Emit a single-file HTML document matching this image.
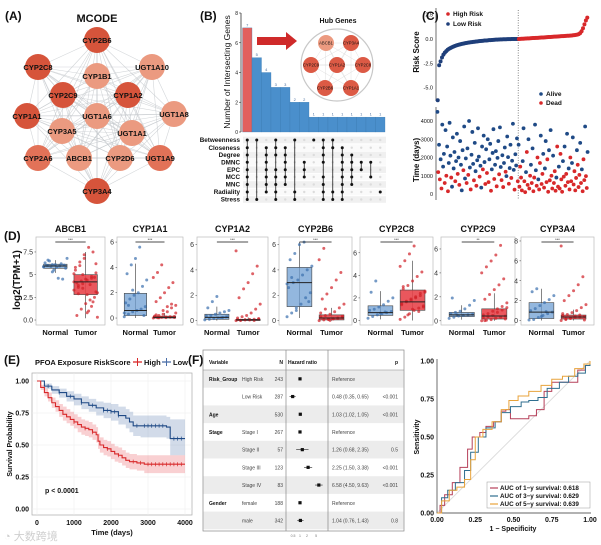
<!DOCTYPE html>
<html><head><meta charset="utf-8"><style>
html,body{margin:0;padding:0;background:#fff;}
svg{display:block;font-family:"Liberation Sans","Noto Sans CJK SC",sans-serif;}
</style></head><body>
<svg id="fig" width="601" height="545" viewBox="0 0 601 545"></svg>
<script>
// ---------- DATA ----------
const netNodes=[["CYP2B6",97,40,0],["CYP2C8",38,67,0],["UGT1A10",152,67,2],["CYP1B1",97,76,2],["CYP2C9",63,95,0],["CYP1A2",128,95,0],["CYP1A1",27,116,0],["UGT1A6",97,116,2],["UGT1A8",174,114,2],["CYP3A5",62,131,2],["UGT1A1",132,133,2],["CYP2A6",38,158,1],["ABCB1",79,158,2],["CYP2D6",120,158,2],["UGT1A9",160,158,1],["CYP3A4",97,191,0]];
const upsetValues=[7,5,4,3,3,2,2,1,1,1,1,1,1,1,1];
const upsetRows=["Betweenness","Closeness","Degree","DMNC","EPC","MCC","MNC","Radiality","Stress"];
const upsetSets=[[0,1,2,3,4,5,6,7,8],[0,8],[1,2,3,4,5,6,7],[0,1,2,4,5,6,7,8],[1,2,3,4,5,6],[0,7,8],[3,4,5],[0],[0,1,2,3,5,6,7,8],[0,1,7,8],[1,2,3,4,5,6,7,8],[2,3,4,5,6],[3,4],[3,5],[7]];
const hubNodes=[["ABCB1",326,43,1],["CYP3A4",351,43,0],["CYP2C9",311,65,0],["CYP1A2",337,65,0],["CYP2C8",363,65,0],["CYP2B6",325,88,0],["CYP1A1",351,88,0]];
const riskLow=[-6.3,-2.7,-2.3,-1.9,-1.6,-1.4,-1.25,-1.1,-1.0,-0.92,-0.85,-0.78,-0.72,-0.67,-0.62,-0.58,-0.54,-0.5,-0.47,-0.44,-0.41,-0.38,-0.36,-0.34,-0.32,-0.3,-0.28,-0.26,-0.24,-0.22,-0.21,-0.19,-0.18,-0.16,-0.15,-0.14,-0.12,-0.11,-0.1,-0.09,-0.08,-0.07,-0.06,-0.05,-0.04,-0.035,-0.03,-0.025,-0.02,-0.015,-0.01,-0.008,-0.006,-0.004,-0.003,-0.002,-0.001];
const riskHigh=[0.0,0.01,0.02,0.03,0.04,0.05,0.06,0.07,0.08,0.09,0.1,0.1,0.11,0.12,0.13,0.14,0.15,0.16,0.17,0.18,0.19,0.2,0.21,0.22,0.23,0.24,0.25,0.26,0.27,0.28,0.29,0.3,0.31,0.32,0.33,0.34,0.35,0.36,0.38,0.4,0.42,0.45,0.5,0.6,0.8,1.1,1.5,1.9,2.2];
const lowTime=[4500,1200,2700,800,1900,300,3800,1500,2200,600,3500,1000,2600,150,1700,3900,2100,900,400,3100,1400,2300,700,1800,3300,1100,2000,500,2900,1600,200,2400,1300,3700,850,1950,600,2500,1050,4000,1450,250,2150,3400,1650,750,2800,1250,450,1850,3600,2050,950,1550,350,2600,1350,3200,1750,550,2450,1150,3000,650,1900,2750,180,1350,2250,3550,820,1600,2350,420,1980,2900,1080,3650,1480,760,2120,380,1700,2550,1220,980,3150,2020,560,1420,2700,880,1820,3850,1320,240,2180,1560,3050,700];
const lowStatus=[0,1,0,1,0,1,0,0,0,1,0,1,0,1,0,0,0,1,0,0,0,0,1,0,0,1,0,1,0,0,0,0,1,0,0,0,1,0,1,0,0,1,0,0,0,1,0,0,1,0,0,0,1,0,0,0,1,0,0,1,0,1,0,1,0,0,1,0,0,0,1,0,0,1,0,0,1,0,0,1,0,1,0,0,1,0,0,0,1,0,0,1,0,0,0,1,0,0,0,1];
const highTime=[2700,400,1500,900,200,1800,3600,700,100,1200,2300,500,3000,300,1000,1600,600,2500,150,900,3800,1300,450,2000,800,250,1700,3200,550,1100,2200,350,1400,2900,650,1900,120,2400,750,3500,1000,300,2100,600,1250,180,900,2600,400,1500,300,2200,800,120,1800,950,2600,450,1100,3300,650,1400,250,2000,700,1700,3100,520,1250,200,880,2400,1600,380,1050,2800,600,1350,150,1900,760,3700,980,330,2300];
const highStatus=[0,1,1,1,1,0,0,1,1,0,1,1,0,1,1,0,1,0,1,1,0,0,1,1,0,1,1,0,1,1,0,1,0,0,1,1,1,0,1,0,1,1,0,1,1,1,0,1,1,0,1,1,1,1,0,1,0,1,1,0,1,0,1,1,1,0,0,1,1,1,1,0,1,1,1,0,1,0,1,1,1,0,1,1,0];
const boxGenes=["ABCB1","CYP1A1","CYP1A2","CYP2B6","CYP2C8","CYP2C9","CYP3A4"];
const boxSig=["***","***","***","***","***","**","***"];
const boxTicks=[[0,2.5,5,7.5],[0,2,4,6],[0,2,4,6],[0,2,4,6],[0,2,4,6],[0,2,4,6],[0,2,4,6,8]];
const boxDomain=[[-0.55,9.15],[-0.55,6.4],[-0.35,6.6],[-0.35,6.6],[-0.4,7.4],[-0.35,7.0],[-0.45,8.4]];
const normalBox=[[5.7,5.95,6.15,5.2,6.6],[0.2,0.6,1.95,0,4.3],[0.1,0.25,0.5,0,1.1],[1.1,3.0,4.2,0.2,6.2],[0.45,0.7,1.3,0.1,2.6],[0.35,0.5,0.7,0.1,1.3],[0.2,0.85,1.8,0,3.2]];
const tumorBox=[[2.8,4.2,5.0,0.2,7.5],[0,0.05,0.15,0,0.4],[0,0.05,0.1,0,0.25],[0.05,0.2,0.45,0,1.0],[0.9,1.65,2.7,0,5.3],[0.15,0.4,1.0,0,2.3],[0.15,0.35,0.55,0,1.1]];
const normalPts=[[5.9,6.0,6.1,5.8,6.2,5.7,6.3,6.5,5.5,4.6,4.5,6.8,6.0,5.9,6.1,5.95,6.05,5.85,6.6,5.3],[0.1,0.3,0.5,0.6,0.7,0.9,1.2,1.5,1.8,2.0,2.5,3.0,3.5,4.2,4.7,5.6,0.2,0.4,1.0,2.2],[0.05,0.1,0.15,0.2,0.25,0.3,0.35,0.4,0.5,0.6,0.7,0.8,1.0,1.5,1.9,0.22,0.28],[0.3,0.6,1.0,1.3,1.8,2.2,2.6,3.0,3.2,3.6,4.0,4.3,4.8,5.3,6.0,6.2,1.5,2.9,3.4,0.8],[0.2,0.35,0.5,0.6,0.7,0.8,0.9,1.0,1.2,1.4,1.7,2.0,2.5,3.5,0.65,0.75],[0.2,0.3,0.4,0.45,0.5,0.55,0.6,0.7,0.8,1.0,1.3,1.7,1.9,0.5],[0.05,0.1,0.3,0.5,0.7,0.85,1.0,1.2,1.5,1.8,2.1,2.5,2.9,3.2,0.4,0.9]];
const tumorPts=[[4.2,3.8,5.0,2.8,4.6,3.1,5.5,6.4,7.2,8.0,7.5,0.3,0.5,1.2,1.8,2.2,2.5,3.3,3.6,4.0,4.4,4.8,5.2,5.8,6.0,6.8,1.0,2.0,3.0,4.1,4.3,4.5,3.9,4.7,5.1,2.9,3.5,0.8,1.5,6.2],[0,0.02,0.05,0.08,0.1,0.12,0.15,0.2,0.3,0.5,0.8,1.0,1.3,1.6,2.0,2.4,2.8,3.2,3.6,4.2,0.03,0.06,0.04,0.07,0.01,0.6,0.9,1.1,0.4,0.25],[0,0.02,0.05,0.08,0.1,0.15,0.2,0.3,0.4,0.6,0.9,1.3,1.8,2.5,3.0,3.7,4.3,5.5,0.03,0.06,0.04,0.01,0.12,0.07],[0,0.05,0.1,0.15,0.2,0.25,0.3,0.4,0.5,0.7,1.0,1.3,1.7,2.1,2.6,3.2,3.8,4.8,5.7,0.08,0.12,0.18,0.35,0.6,0.9,0.02],[0.1,0.3,0.6,0.9,1.1,1.3,1.5,1.65,1.8,2.0,2.2,2.5,2.8,3.1,3.5,3.9,4.3,4.8,5.3,5.9,6.6,0.8,1.2,1.4,1.7,1.9,2.1,2.4,2.6,3.0,0.5,1.0],[0,0.05,0.1,0.2,0.3,0.4,0.5,0.6,0.8,1.0,1.2,1.5,1.8,2.2,2.6,3.0,3.5,4.0,4.5,5.0,5.5,6.3,0.15,0.25,0.35,0.45,0.7,0.9,1.1,0.02],[0,0.1,0.2,0.3,0.35,0.4,0.5,0.6,0.8,1.0,1.3,1.6,2.0,2.5,3.0,3.6,4.4,7.5,0.15,0.25,0.45,0.55,0.05,0.7]];
const kmHighT=[0,100,200,300,400,500,600,700,800,900,1000,1100,1200,1300,1400,1500,1600,1650,1700,1800,1900,2000,2100,2200,2300,2400,2500,2700,2900,4000];
const kmHighS=[1,0.95,0.91,0.87,0.83,0.8,0.77,0.74,0.72,0.7,0.68,0.66,0.64,0.63,0.62,0.6,0.58,0.53,0.5,0.48,0.47,0.45,0.43,0.42,0.4,0.38,0.37,0.36,0.35,0.35];
const kmHighLo=[1,0.93,0.88,0.84,0.79,0.76,0.72,0.69,0.67,0.65,0.63,0.6,0.58,0.57,0.56,0.54,0.52,0.47,0.44,0.42,0.41,0.39,0.37,0.36,0.34,0.32,0.31,0.3,0.28,0.27];
const kmHighUp=[1,0.97,0.94,0.91,0.87,0.85,0.82,0.8,0.78,0.76,0.74,0.72,0.7,0.69,0.68,0.66,0.64,0.59,0.56,0.54,0.53,0.51,0.49,0.48,0.46,0.44,0.43,0.42,0.42,0.42];
const kmLowT=[0,200,400,600,800,1000,1200,1400,1600,1800,2000,2200,2400,2500,2600,2800,3500,3600,4000];
const kmLowS=[1,0.96,0.93,0.91,0.88,0.86,0.83,0.81,0.79,0.77,0.76,0.73,0.71,0.68,0.65,0.65,0.64,0.55,0.55];
const kmLowLo=[1,0.94,0.9,0.87,0.84,0.81,0.78,0.76,0.73,0.71,0.69,0.66,0.63,0.6,0.57,0.56,0.55,0.42,0.42];
const kmLowUp=[1,0.98,0.96,0.94,0.92,0.9,0.88,0.86,0.84,0.83,0.82,0.8,0.78,0.76,0.73,0.73,0.72,0.7,0.7];
const kmHighCens=[1000,1300,1500,1900,2200,2600,2800,3000,3100,3200,3300,3400,3500,3600,3700,3800,3900];
const kmLowCens=[300,600,900,1200,1500,1800,1900,2000,2100,2200,2700,2900,3000,3100,3200,3300,3400,3700,3800,3900];
const forestVars=[["Risk_Group","High Risk","243","Reference",""],["","Low Risk","287","0.48 (0.35, 0.65)","<0.001"],["Age","","530","1.03 (1.02, 1.05)","<0.001"],["Stage","Stage I","267","Reference",""],["","Stage II","57","1.26 (0.68, 2.35)","0.5"],["","Stage III","123","2.25 (1.50, 3.38)","<0.001"],["","Stage IV","83","6.58 (4.50, 9.63)","<0.001"],["Gender","female","188","Reference",""],["","male","342","1.04 (0.76, 1.43)","0.8"]];
const forestHR=[1,0.48,1.03,1,1.26,2.25,6.58,1,1.04];
const forestLo=[1,0.35,1.02,1,0.68,1.50,4.50,1,0.76];
const forestHi=[1,0.65,1.05,1,2.35,3.38,9.63,1,1.43];
const roc1F=[0,0.02,0.05,0.1,0.15,0.2,0.23,0.28,0.32,0.37,0.42,0.45,0.48,0.55,0.6,0.65,0.7,0.75,0.8,0.88,0.92,0.97,1];
const roc1T=[0,0.05,0.12,0.2,0.3,0.42,0.5,0.53,0.57,0.6,0.67,0.68,0.62,0.62,0.64,0.68,0.8,0.86,0.86,0.86,0.94,0.97,1];
const roc3F=[0,0.03,0.07,0.12,0.18,0.22,0.27,0.32,0.38,0.42,0.48,0.55,0.6,0.66,0.72,0.8,0.86,0.92,0.97,1];
const roc3T=[0,0.1,0.15,0.2,0.28,0.4,0.5,0.56,0.6,0.66,0.7,0.73,0.74,0.76,0.82,0.86,0.9,0.92,0.97,1];
const roc5F=[0,0.03,0.08,0.13,0.18,0.22,0.25,0.3,0.36,0.42,0.47,0.53,0.6,0.68,0.75,0.82,0.9,0.96,1];
const roc5T=[0,0.08,0.15,0.17,0.22,0.35,0.5,0.55,0.6,0.68,0.74,0.77,0.8,0.84,0.88,0.9,0.95,0.98,1];

// ---------- HELPERS ----------
const NS="http://www.w3.org/2000/svg";
const svg=document.getElementById('fig');
function el(t,a,p){const e=document.createElementNS(NS,t);for(const k in a)e.setAttribute(k,a[k]);(p||svg).appendChild(e);return e;}
function tag(e,n,i){
  
  
  return e;}
function tx(x,y,s,a,p){const e=el('text',Object.assign({x:x,y:y,fill:'#111'},a||{}),p);e.textContent=s;return e;}
function grp(n){const g=el('g',{});return g;}

[["(A)",5,20],["(B)",200,20],["(C)",422,20],["(D)",4,240],["(E)",4,364],["(F)",188,364],["(G)",302,364]].forEach(l=>{
  const e=tx(l[1],l[2],l[0],{'font-size':12,'font-weight':'bold'});
  tag(e,'panel-label-'+l[0].replace(/[()]/g,'').toLowerCase());
});

// ---------- A ----------
{const g=grp('mcode-network');
 const t=tx(97,22,'MCODE',{'font-size':11,'font-weight':'bold','text-anchor':'middle'},g);tag(t,'mcode-title');
 for(let i=0;i<netNodes.length;i++)for(let j=i+1;j<netNodes.length;j++){
   const a=netNodes[i],b=netNodes[j];
   const l=el('line',{x1:a[1],y1:a[2],x2:b[1],y2:b[2],stroke:'#c4c8cc','stroke-width':0.6,'stroke-opacity':0.75},g);
   tag(l,'network-edge');}
 const cols=['#d6543b','#e27258','#eb9a80'];
 netNodes.forEach(n=>{
   const c=el('circle',{cx:n[1],cy:n[2],r:13,fill:cols[n[3]]},g);tag(c,'node-'+n[0].toLowerCase());
   const t=tx(n[1],n[2]+3,n[0],{'font-size':7.5,'font-weight':'bold','text-anchor':'middle'},g);tag(t,'node-label');
 });}

// ---------- B ----------
{const g=grp('upset-plot');
 const y0=132,y8=13, yS=v=>y0-(y0-y8)*v/8, bx=242.5, bw=9.5;
 const ax=el('line',{x1:241,y1:y8,x2:241,y2:y0,stroke:'#333','stroke-width':0.8},g);tag(ax,'upset-y-axis');
 [0,2,4,6,8].forEach(v=>{const t=tx(238,yS(v)+2,String(v),{'font-size':5,'text-anchor':'end'},g);tag(t,'upset-y-tick');
   const l=el('line',{x1:239,x2:241,y1:yS(v),y2:yS(v),stroke:'#333','stroke-width':0.6},g);tag(l,'tick-mark');});
 const yl=tx(0,0,'Number of Intersecting Genes',{'font-size':8.5,'text-anchor':'middle',transform:'translate(230,72) rotate(-90)'},g);tag(yl,'upset-y-title');
 upsetValues.forEach((v,i)=>{
   const r=el('rect',{x:bx+i*bw,y:yS(v),width:bw,height:y0-yS(v),fill:i==0?'#e2605d':'#4a8fcc',stroke:'#3a78b0','stroke-width':0.3},g);tag(r,'intersection-bar');
   const t=tx(bx+i*bw+bw/2,yS(v)-1.5,String(v),{'font-size':4,'text-anchor':'middle',fill:'#4a6fa0'},g);tag(t,'bar-value');
 });
 const rowY=[140,147.7,155,162.3,169.7,177,184.5,192,199.5];
 upsetRows.forEach((r,i)=>{
   const b=el('rect',{x:243,y:rowY[i]-3.3,width:143,height:6.6,fill:i%2?'#fafafa':'#f0f0f0'},g);tag(b,'matrix-row-bg');
   const t=tx(240,rowY[i]+2.2,r,{'font-size':6.3,'font-weight':'bold','text-anchor':'end'},g);tag(t,'set-label');
 });
 upsetSets.forEach((s,i)=>{
   const cx=bx+i*bw+bw/2;
   upsetRows.forEach((r,k)=>{const c=el('circle',{cx:cx,cy:rowY[k],r:1.2,fill:'#dcdcdc'},g);tag(c,'matrix-dot-off');});
   const mn=Math.min(...s),mx=Math.max(...s);
   if(s.length>1){const l=el('line',{x1:cx,x2:cx,y1:rowY[mn],y2:rowY[mx],stroke:'#222','stroke-width':0.8},g);tag(l,'matrix-connector');}
   s.forEach(k=>{const c=el('circle',{cx:cx,cy:rowY[k],r:1.5,fill:'#111'},g);tag(c,'matrix-dot-on');});
 });
 const ar=el('path',{d:'M257,37 L286,37 L286,32 L297,41 L286,50 L286,45 L257,45 Z',fill:'#cf2a2a'},g);tag(ar,'arrow');
 const ht=tx(338,23,'Hub Genes',{'font-size':7,'font-weight':'bold','text-anchor':'middle'},g);tag(ht,'hub-genes-title');
 const hc=el('circle',{cx:337,cy:65,r:36,fill:'none',stroke:'#c8c8c8','stroke-width':1.2},g);tag(hc,'hub-circle');
 for(let i=0;i<hubNodes.length;i++)for(let j=i+1;j<hubNodes.length;j++){const a=hubNodes[i],b=hubNodes[j];
   const l=el('line',{x1:a[1],y1:a[2],x2:b[1],y2:b[2],stroke:'#d8d8d8','stroke-width':0.4},g);tag(l,'hub-edge');}
 hubNodes.forEach(n=>{const c=el('circle',{cx:n[1],cy:n[2],r:8,fill:n[3]?'#ec9a80':'#dc5a45'},g);tag(c,'hub-node');
   const t=tx(n[1],n[2]+1.6,n[0],{'font-size':4.2,'text-anchor':'middle'},g);tag(t,'hub-node-label');});
}

// ---------- C ----------
{const g=grp('risk-plot');
 const N=riskLow.length+riskHigh.length, X0=437,X1=588;
 const xI=i=>X0+(X1-X0)*(i+0.5)/N;
 const M=lowTime.length+highTime.length;
 const xJ=i=>X0+(X1-X0)*(i+0.5)/M;
 const yR=v=>39-v*9.73, yT=t=>194-t*0.01825;
 const a1=el('line',{x1:436,x2:436,y1:8,y2:101,stroke:'#333','stroke-width':0.7},g);tag(a1,'risk-y-axis');
 const a2=el('line',{x1:436,x2:436,y1:107,y2:200,stroke:'#333','stroke-width':0.7},g);tag(a2,'time-y-axis');
 [[2.5,'2.5'],[0,'0.0'],[-2.5,'-2.5'],[-5,'-5.0']].forEach(v=>{const t=tx(433,yR(v[0])+2,v[1],{'font-size':5.5,'text-anchor':'end'},g);tag(t,'risk-tick');});
 [0,1000,2000,3000,4000].forEach(v=>{const t=tx(433,yT(v)+2,String(v),{'font-size':5.5,'text-anchor':'end'},g);tag(t,'time-tick');});
 const l1=tx(0,0,'Risk Score',{'font-size':8,'font-weight':'bold','text-anchor':'middle',transform:'translate(419,52) rotate(-90)'},g);tag(l1,'risk-y-title');
 const l2=tx(0,0,'Time (days)',{'font-size':8,'font-weight':'bold','text-anchor':'middle',transform:'translate(419,160) rotate(-90)'},g);tag(l2,'time-y-title');
 const dv=el('line',{x1:xI(riskLow.length-0.5),x2:xI(riskLow.length-0.5),y1:10,y2:200,stroke:'#555','stroke-width':0.7,'stroke-dasharray':'1,1.5'},g);tag(dv,'risk-cutoff-line');
 riskLow.forEach((v,i)=>{const c=el('circle',{cx:xI(i),cy:yR(v),r:2,fill:'#1f3f7a'},g);tag(c,'risk-point-low');});
 riskHigh.forEach((v,i)=>{const c=el('circle',{cx:xI(riskLow.length+i),cy:yR(v),r:2,fill:'#d8282a'},g);tag(c,'risk-point-high');});
 const lowW=(riskLow.length/N)*M/lowTime.length, highW=(riskHigh.length/N)*M/highTime.length;
 lowTime.forEach((v,i)=>{const c=el('circle',{cx:xJ(i*lowW),cy:yT(v),r:1.9,fill:lowStatus[i]?'#d8282a':'#1f4a86'},g);tag(c,'survival-point');});
 highTime.forEach((v,i)=>{const c=el('circle',{cx:xJ(lowTime.length*lowW+i*highW),cy:yT(v),r:1.9,fill:highStatus[i]?'#d8282a':'#1f4a86'},g);tag(c,'survival-point');});
 [["High Risk",'#d8282a',16],["Low Risk",'#1f3f7a',26]].forEach(l=>{const c=el('circle',{cx:448,cy:l[2]-2,r:1.8,fill:l[1]},g);tag(c,'legend-marker');
   const t=tx(453,l[2],l[0],{'font-size':6.5,'font-weight':'bold'},g);tag(t,'legend-entry');});
 [["Alive",'#1f4a86',96],["Dead",'#d8282a',105]].forEach(l=>{const c=el('circle',{cx:541,cy:l[2]-2,r:1.8,fill:l[1]},g);tag(c,'legend-marker');
   const t=tx(546,l[2],l[0],{'font-size':6.5,'font-weight':'bold'},g);tag(t,'legend-entry');});
}

// ---------- D ----------
{const g=grp('expression-boxplots');
 const frames=[[36,105],[117,183],[197,268],[279,352],[360,433],[441,515],[521,594]];
 const T=237,B=325;
 const yl=tx(0,0,'log2(TPM+1)',{'font-size':10,'font-weight':'bold','text-anchor':'middle',transform:'translate(20,280) rotate(-90)'},g);tag(yl,'d-y-title');
 boxGenes.forEach((gn,p)=>{
   const [x0,x1]=frames[p],w=x1-x0,[lo,hi]=boxDomain[p];
   const yS=v=>B-(v-lo)/(hi-lo)*(B-T);
   const fr=el('rect',{x:x0,y:T,width:w,height:B-T,fill:'#fff',stroke:'#bbb','stroke-width':0.7},g);tag(fr,'panel-frame-'+gn.toLowerCase());
   const tt=tx((x0+x1)/2,232,gn,{'font-size':9,'font-weight':'bold','text-anchor':'middle'},g);tag(tt,'gene-title');
   boxTicks[p].forEach(v=>{const t=tx(x0-3,yS(v)+2.5,String(v===0&&p==0?'0.0':v),{'font-size':7,'text-anchor':'end',fill:'#333'},g);tag(t,'y-tick');
     const m=el('line',{x1:x0-1.5,x2:x0,y1:yS(v),y2:yS(v),stroke:'#333','stroke-width':0.5},g);tag(m,'tick-mark');});
   const cxN=x0+w*0.28,cxT=x0+w*0.72,hw=w*0.17;
   [[normalBox[p],normalPts[p],cxN,'#6f9fd3','#3a6fae','normal'],[tumorBox[p],tumorPts[p],cxT,'#e8454b','#d01f26','tumor']].forEach(d=>{
     const [q1,md,q3,wl,wh]=d[0];
     const wk=el('line',{x1:d[2],x2:d[2],y1:yS(wl),y2:yS(wh),stroke:'#333','stroke-width':0.6},g);tag(wk,d[5]+'-whisker');
     const bx=el('rect',{x:d[2]-hw,y:yS(q3),width:2*hw,height:Math.max(1,yS(q1)-yS(q3)),fill:d[3],'fill-opacity':d[5]=='tumor'?0.9:0.75,stroke:'#444','stroke-width':0.6},g);tag(bx,d[5]+'-box');
     d[1].forEach((v,i)=>{const jx=((i*37)%17-8)/8*hw*1.0;
       const c=el('circle',{cx:d[2]+jx,cy:yS(v),r:1.5,fill:d[4],'fill-opacity':0.7},g);tag(c,d[5]+'-point');});
     const ml=el('line',{x1:d[2]-hw,x2:d[2]+hw,y1:yS(md),y2:yS(md),stroke:'#222','stroke-width':1},g);tag(ml,d[5]+'-median');
     const lb=tx(d[2],335,d[5]=='normal'?'Normal':'Tumor',{'font-size':7.5,'font-weight':'bold','text-anchor':'middle'},g);tag(lb,'x-label');
   });
   const sb=el('line',{x1:cxN,x2:cxT,y1:242,y2:242,stroke:'#111','stroke-width':0.8},g);tag(sb,'significance-bar');
   const st=tx((cxN+cxT)/2,241,boxSig[p],{'font-size':4,'text-anchor':'middle'},g);tag(st,'significance-stars');
 });}

// ---------- E ----------
{const g=grp('km-plot');
 const xS=t=>37+t*148/4000, yS=s=>509-s*128;
 const fr=el('rect',{x:32,y:373,width:160,height:142,fill:'#fff',stroke:'#aaa','stroke-width':0.7},g);tag(fr,'km-frame');
 [0,1000,2000,3000,4000].forEach(v=>{const l=el('line',{x1:xS(v),x2:xS(v),y1:373,y2:515,stroke:'#ececec','stroke-width':0.5},g);tag(l,'gridline');
   const t=tx(xS(v),525,String(v),{'font-size':7,'font-weight':'bold','text-anchor':'middle'},g);tag(t,'x-tick');});
 [[0,'0.00'],[0.25,'0.25'],[0.5,'0.50'],[0.75,'0.75'],[1,'1.00']].forEach(v=>{const l=el('line',{x1:32,x2:192,y1:yS(v[0]),y2:yS(v[0]),stroke:'#ececec','stroke-width':0.5},g);tag(l,'gridline');
   const t=tx(29,yS(v[0])+2.5,v[1],{'font-size':7,'font-weight':'bold','text-anchor':'end'},g);tag(t,'y-tick');});
 function stepPts(T,S){let p=[];T.forEach((t,i)=>{if(i>0)p.push([xS(t),yS(S[i-1])]);p.push([xS(t),yS(S[i])]);});return p;}
 function band(T,L,U,c,n){const up=stepPts(T,U),lw=stepPts(T,L).reverse();
   const e=el('polygon',{points:up.concat(lw).map(p=>p.join(',')).join(' '),fill:c,'fill-opacity':0.25},g);tag(e,n);}
 function curve(T,S,C,c,n){const e=el('polyline',{points:stepPts(T,S).map(p=>p.join(',')).join(' '),fill:'none',stroke:c,'stroke-width':1.1},g);tag(e,n);
   C.forEach(t=>{let k=0;while(k+1<T.length&&T[k+1]<=t)k++;const m=el('line',{x1:xS(t),x2:xS(t),y1:yS(S[k])-2,y2:yS(S[k])+2,stroke:c,'stroke-width':0.7},g);tag(m,'censor-mark');});}
 band(kmLowT,kmLowLo,kmLowUp,'#4a6ea8','low-ci-band');
 band(kmHighT,kmHighLo,kmHighUp,'#e8454b','high-ci-band');
 curve(kmLowT,kmLowS,kmLowCens,'#1f4a86','low-km-curve');
 curve(kmHighT,kmHighS,kmHighCens,'#d8282a','high-km-curve');
 const p=tx(45,493,'p < 0.0001',{'font-size':7,'font-weight':'bold'},g);tag(p,'p-value');
 const xl=tx(112,535,'Time (days)',{'font-size':7.5,'font-weight':'bold','text-anchor':'middle'},g);tag(xl,'x-title');
 const yl=tx(0,0,'Survival Probability',{'font-size':7,'font-weight':'bold','text-anchor':'middle',transform:'translate(12,444) rotate(-90)'},g);tag(yl,'y-title');
 const lt=tx(35,365,'PFOA Exposure RiskScore',{'font-size':7.5,'font-weight':'bold'},g);tag(lt,'legend-title');
 [[133,'High','#d8282a'],[162,'Low','#4a6ea8']].forEach(l=>{const h=el('line',{x1:l[0],x2:l[0]+9,y1:362,y2:362,stroke:l[2],'stroke-width':1.3},g);tag(h,'legend-swatch');
   const v=el('line',{x1:l[0]+4.5,x2:l[0]+4.5,y1:358,y2:366,stroke:l[2],'stroke-width':1},g);tag(v,'legend-swatch');
   const t=tx(l[0]+11,365,l[1],{'font-size':7.5,'font-weight':'bold'},g);tag(t,'legend-entry');});
 const wm=tx(4,540,'◔ 大数跨境',{'font-size':11,fill:'#cfcfcf'},g);tag(wm,'watermark');
}

// ---------- F ----------
{const g=grp('forest-table');
 const X0=203,X1=404,top=350,rh=17.7,r0=370;
 const fr=el('rect',{x:X0,y:top,width:X1-X0,height:181,fill:'#fff',stroke:'#888','stroke-width':0.7},g);tag(fr,'table-frame');
 forestVars.forEach((r,i)=>{if(i%2==0){const b=el('rect',{x:X0+0.5,y:r0+i*rh,width:X1-X0-1,height:rh,fill:'#ececec'},g);tag(b,'row-shade');}});
 [[286],[328]].forEach(v=>{const l=el('line',{x1:v[0],x2:v[0],y1:top,y2:531,stroke:'#888','stroke-width':0.7},g);tag(l,'column-divider');});
 const hl=el('line',{x1:X0,x2:X1,y1:r0,y2:r0,stroke:'#888','stroke-width':0.6},g);tag(hl,'header-line');
 [['Variable',209,'start'],['N',283,'end'],['Hazard ratio',288,'start'],['p',398,'end']].forEach(h=>{const t=tx(h[1],364,h[0],{'font-size':5,'font-weight':'bold','text-anchor':h[2]},g);tag(t,'column-header');});
 const xH=v=>300+Math.log(v)*10;
 forestVars.forEach((r,i)=>{const y=r0+i*rh+rh/2+2;
   const a=tx(209,y,r[0],{'font-size':5,'font-weight':'bold'},g);tag(a,'variable-name');
   const b=tx(242,y,r[1],{'font-size':5,fill:'#444'},g);tag(b,'variable-level');
   const c=tx(283,y,r[2],{'font-size':5,'text-anchor':'end',fill:'#444'},g);tag(c,'sample-n');
   const d=tx(332,y,r[3],{'font-size':5,fill:'#444'},g);tag(d,'hr-estimate');
   const e=tx(398,y,r[4],{'font-size':5,'text-anchor':'end',fill:'#444'},g);tag(e,'p-value');
   const cy=y-2;
   if(forestLo[i]!==forestHi[i]){const ci=el('line',{x1:xH(forestLo[i]),x2:xH(forestHi[i]),y1:cy,y2:cy,stroke:'#222','stroke-width':0.6},g);tag(ci,'ci-line');}
   const pt=el('rect',{x:xH(forestHR[i])-1.6,y:cy-1.6,width:3.2,height:3.2,fill:'#111'},g);tag(pt,'hr-point');
 });
 [0.5,1,2,5].forEach(v=>{const t=tx(xH(v),537,String(v),{'font-size':3.5,'text-anchor':'middle',fill:'#777'},g);tag(t,'forest-x-tick');});
}

// ---------- G ----------
{const g=grp('roc-plot');
 const xS=f=>437+f*153, yS=t=>513-t*152;
 const dg=el('line',{x1:xS(0),y1:yS(0),x2:xS(1),y2:yS(1),stroke:'#ddd','stroke-width':1},g);tag(dg,'diagonal');
 const ax=el('polyline',{points:`437,359 437,513 591,513`,fill:'none',stroke:'#333','stroke-width':0.7},g);tag(ax,'roc-axes');
 [[0,'0.00'],[0.25,'0.25'],[0.5,'0.50'],[0.75,'0.75'],[1,'1.00']].forEach(v=>{
   const a=tx(434,yS(v[0])+2.5,v[1],{'font-size':7,'font-weight':'bold','text-anchor':'end'},g);tag(a,'y-tick');
   const b=tx(xS(v[0]),522,v[1],{'font-size':7,'font-weight':'bold','text-anchor':'middle'},g);tag(b,'x-tick');});
 const xl=tx(513,531,'1 − Specificity',{'font-size':7,'font-weight':'bold','text-anchor':'middle'},g);tag(xl,'x-title');
 const yl=tx(0,0,'Sensitivity',{'font-size':7,'font-weight':'bold','text-anchor':'middle',transform:'translate(419,437) rotate(-90)'},g);tag(yl,'y-title');
 function roc(F,T,c,n){let p=[];F.forEach((f,i)=>{if(i>0)p.push([xS(f),yS(T[i-1])]);p.push([xS(f),yS(T[i])]);});
   const e=el('polyline',{points:p.map(q=>q.join(',')).join(' '),fill:'none',stroke:c,'stroke-width':1},g);tag(e,n);}
 roc(roc1F,roc1T,'#b6405a','roc-1y');roc(roc3F,roc3T,'#2f6e8f','roc-3y');roc(roc5F,roc5T,'#e8a33b','roc-5y');
 const lb=el('rect',{x:487,y:482,width:103,height:26,fill:'#fff',stroke:'#999','stroke-width':0.5},g);tag(lb,'legend-box');
 [['AUC of 1−y survival: 0.618','#b6405a',490],['AUC of 3−y survival: 0.629','#2f6e8f',498],['AUC of 5−y survival: 0.639','#e8a33b',506]].forEach(l=>{
   const s=el('line',{x1:490,x2:498,y1:l[2]-2,y2:l[2]-2,stroke:l[1],'stroke-width':1.2},g);tag(s,'legend-swatch');
   const t=tx(500,l[2],l[0],{'font-size':6.3,'font-weight':'bold'},g);tag(t,'legend-entry');});
}
</script>
</body></html>
